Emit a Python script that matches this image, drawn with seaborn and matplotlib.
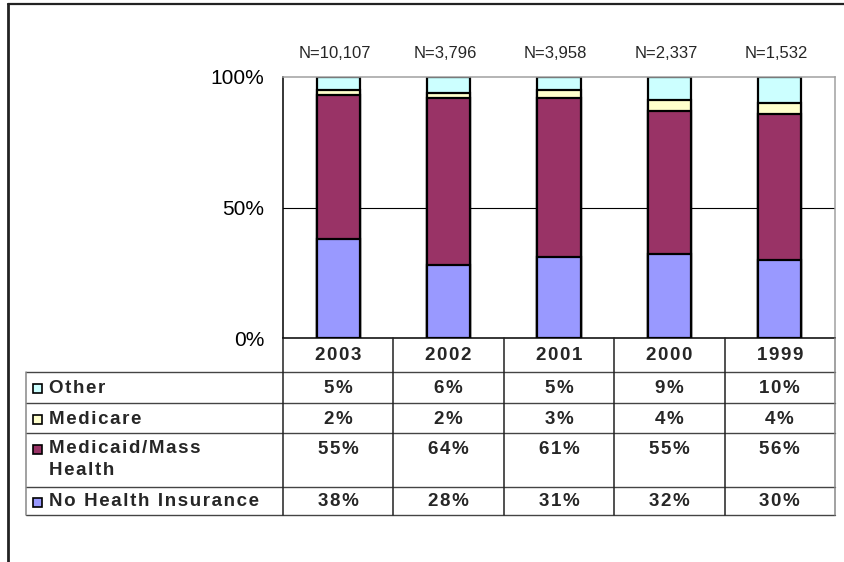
import matplotlib
matplotlib.use('Agg')
import matplotlib.pyplot as plt
from matplotlib.patches import Rectangle
import numpy as np
import pandas as pd
import seaborn as sns

# data
years = ['2003', '2002', '2001', '2000', '1999']
n_labels = ['N=10,107', 'N=3,796', 'N=3,958', 'N=2,337', 'N=1,532']
no_insurance = [38, 28, 31, 32, 30]
medicaid = [55, 64, 61, 55, 56]
medicare = [2, 2, 3, 4, 4]
other = [5, 6, 5, 9, 10]

series_names = ['No Health Insurance', 'Medicaid/Mass\nHealth', 'Medicare', 'Other']
series_values = [no_insurance, medicaid, medicare, other]
series_colors = ['#9999FF', '#993366', '#FFFFCC', '#CCFFFF']

sns.set_style('white')
plt.rcParams['font.family'] = ['Liberation Sans', 'DejaVu Sans']

TS = '\u200a'  # hair space, to mimic the wide letter spacing of the table


def spaced(s):
    return '\n'.join(TS.join(line) for line in s.split('\n'))


W, H = 845, 562
fig = plt.figure(figsize=(W / 100, H / 100), dpi=100)

# plot area in pixels
px_l, px_r, px_t, px_b = 283, 835, 77, 338
ax = fig.add_axes([px_l / W, 1 - px_b / H, (px_r - px_l) / W, (px_b - px_t) / H])

# stacked bars: draw cumulative totals from the top down so each layer covers the next
df = pd.DataFrame({'year': years})
cum = np.cumsum(np.array(series_values), axis=0)
for i in range(len(series_values) - 1, -1, -1):
    df['v'] = cum[i]
    sns.barplot(data=df, x='year', y='v', order=years, color=series_colors[i],
                saturation=1, width=0.39, edgecolor='black', linewidth=1.6, ax=ax)

ax.set_xlim(-0.5, len(years) - 0.5)
ax.set_ylim(0, 100)
ax.set_yticks([0, 50, 100])
ax.set_yticklabels(['0%', '50%', '100%'])
ax.set_xticks(range(len(years)))
ax.set_xticklabels([])
ax.set_xlabel('')
ax.set_ylabel('')
ax.tick_params(axis='y', length=4.3, width=1, direction='out', labelsize=15, pad=9, colors='black')
ax.tick_params(axis='x', length=0)
ax.axhline(50, color='black', lw=0.8, zorder=0)
for side in ['left', 'bottom']:
    ax.spines[side].set_color('black')
    ax.spines[side].set_linewidth(1.1)
for side in ['top', 'right']:
    ax.spines[side].set_color('#a0a0a0')
    ax.spines[side].set_linewidth(1.1)

# N labels above the bars
for i, lab in enumerate(n_labels):
    ax.text(i - 0.03, 1.0 + 24 / (px_b - px_t), lab, transform=ax.get_xaxis_transform(),
            ha='center', va='center', fontsize=12)

# overlay in pixel coordinates for the frame and the data table
ov = fig.add_axes([0, 0, 1, 1])
ov.set_xlim(0, W)
ov.set_ylim(H, 0)
ov.axis('off')
ov.patch.set_visible(False)

# outer chart frame (top and left only visible)
ov.plot([8.5, W], [3.5, 3.5], color='#222222', lw=1.6)
ov.plot([8.5, 8.5], [3.5, H], color='#222222', lw=2)

col_edges = np.linspace(px_l, px_r, len(years) + 1)
col_mid = (col_edges[:-1] + col_edges[1:]) / 2
tab_l = 26
row_edges = [px_b, 372, 403, 433, 487, 515]
line_c = '#444444'

# horizontal rules
for y in row_edges[1:]:
    ov.plot([tab_l, px_r], [y, y], color=line_c, lw=1)
# vertical rules
for x in col_edges[:-1]:
    ov.plot([x, x], [px_b, row_edges[-1]], color='#222222', lw=1.1)
ov.plot([px_r, px_r], [px_b, row_edges[-1]], color='#888888', lw=1.1)
ov.plot([tab_l, tab_l], [row_edges[1], row_edges[-1]], color='#888888', lw=1.1)

fs = 13.5
# header row with years
for x, yr in zip(col_mid, years):
    ov.text(x, (row_edges[0] + row_edges[1]) / 2 + 1, spaced(yr), ha='center', va='center',
            fontsize=fs, fontweight='bold')

# data rows: top of table is the top series (Other) like the stack
for r, k in enumerate(range(len(series_values) - 1, -1, -1)):
    top, bot = row_edges[r + 1], row_edges[r + 2]
    multi = '\n' in series_names[k]
    yc = top + 16 if multi else (top + bot) / 2 + 1
    ov.add_patch(Rectangle((33, yc - 4.5), 9, 9, facecolor=series_colors[k],
                           edgecolor='black', lw=1.2))
    if multi:
        ov.text(49, top + 7, spaced(series_names[k]), ha='left', va='top',
                fontsize=fs, fontweight='bold', linespacing=1.35)
    else:
        ov.text(49, yc, spaced(series_names[k]), ha='left', va='center',
                fontsize=fs, fontweight='bold')
    for x, v in zip(col_mid, series_values[k]):
        ov.text(x, yc, spaced(f'{v}%'), ha='center', va='center',
                fontsize=fs, fontweight='bold')

fig.savefig('out.png', dpi=100)
